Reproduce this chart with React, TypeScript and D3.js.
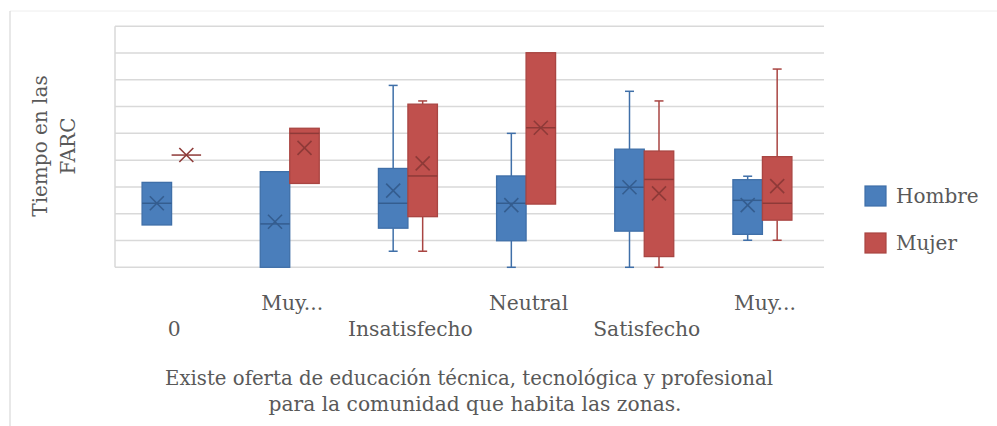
import * as React from "react";
import * as d3 from "d3";

// categories on the x axis and the labels shown under them
const categories = ["0", "Muy Insatisfecho", "Insatisfecho", "Neutral", "Satisfecho", "Muy Satisfecho"];
const tickLabels = ["0", "Muy...", "Insatisfecho", "Neutral", "Satisfecho", "Muy..."];
const gridTicks = [0, 1, 2, 3, 4, 5, 6, 7, 8, 9];

// Hombre box stats (null = no whisker beyond the box)
const hombreMin = [null, null, 0.6, 0, 0, 1.01];
const hombreQ1 = [1.58, 0, 1.46, 0.99, 1.35, 1.23];
const hombreMedian = [2.39, 1.62, 2.39, 2.39, 2.99, 2.5];
const hombreQ3 = [3.17, 3.57, 3.69, 3.41, 4.41, 3.27];
const hombreMax = [null, null, 6.79, 5.0, 6.57, 3.4];
const hombreMean = [2.39, 1.7, 2.86, 2.32, 2.99, 2.32];

// Mujer box stats
const mujerMin = [null, null, 0.6, null, 0, 1.01];
const mujerQ1 = [4.19, 3.13, 1.89, 2.36, 0.4, 1.76];
const mujerMedian = [4.19, 5.0, 3.41, 5.21, 3.28, 2.39];
const mujerQ3 = [4.19, 5.19, 6.09, 8.01, 4.34, 4.13];
const mujerMax = [null, null, 6.21, null, 6.21, 7.4];
const mujerMean = [4.19, 4.46, 3.88, 5.21, 2.76, 3.03];

const seriesNames = ["Hombre", "Mujer"];

const W = 997;
const H = 426;
const FONT = "'DejaVu Serif', serif";
const TEXT = "#595959";

const series = [
  { name: "Hombre", fill: "#4a7ebb", stroke: "#3f6fa8", dark: "#345d8f", min: hombreMin, q1: hombreQ1, med: hombreMedian, q3: hombreQ3, max: hombreMax, mean: hombreMean },
  { name: "Mujer", fill: "#c0504d", stroke: "#a94542", dark: "#8e3a38", min: mujerMin, q1: mujerQ1, med: mujerMedian, q3: mujerQ3, max: mujerMax, mean: mujerMean },
];

const App: React.FunctionComponent = () => {
  const x = d3.scaleBand<string>().domain(categories).range([115, 824]);
  const y = d3.scaleLinear().domain([0, 9]).range([267.3, 26.2]);
  const bw = 29.5;
  const mk = 7;

  return (
    <svg width={W} height={H} style={{ position: "absolute", left: 0, top: 0, background: "#fff" }}>
      {/* outer frame */}
      <line x1={10} x2={W} y1={11} y2={11} stroke="#eeeeee" strokeWidth={1} />
      <line x1={10} x2={10} y1={11} y2={H} stroke="#d9d9d9" strokeWidth={1.2} />

      {/* gridlines */}
      {gridTicks.map((t) => (
        <line key={t} x1={115} x2={824} y1={y(t)} y2={y(t)} stroke="#d9d9d9" strokeWidth={1.5} />
      ))}
      <line x1={115} x2={115} y1={y(9)} y2={y(0)} stroke="#d9d9d9" strokeWidth={1.5} />

      {/* boxes */}
      {categories.map((c, i) => {
        const mid = (x(c) ?? 0) + x.bandwidth() / 2 - 2.5;
        return series.map((s, k) => {
          const x0 = k === 0 ? mid - bw : mid;
          const cx = x0 + bw / 2;
          const top = y(s.q3[i]);
          const bot = y(s.q1[i]);
          const mx = s.max[i];
          const mn = s.min[i];
          const my = y(s.mean[i]);
          return (
            <g key={c + s.name}>
              {mx !== null && (
                <g stroke={s.stroke} strokeWidth={1.5}>
                  <line x1={cx} x2={cx} y1={y(mx)} y2={top} />
                  <line x1={cx - 4.5} x2={cx + 4.5} y1={y(mx)} y2={y(mx)} />
                </g>
              )}
              {mn !== null && (
                <g stroke={s.stroke} strokeWidth={1.5}>
                  <line x1={cx} x2={cx} y1={bot} y2={y(mn)} />
                  <line x1={cx - 4.5} x2={cx + 4.5} y1={y(mn)} y2={y(mn)} />
                </g>
              )}
              <rect x={x0} y={top} width={bw} height={Math.max(0, bot - top)} fill={s.fill} stroke={s.stroke} strokeWidth={1.3} />
              <line x1={x0} x2={x0 + bw} y1={y(s.med[i])} y2={y(s.med[i])} stroke={s.dark} strokeWidth={1.5} />
              <g stroke={s.dark} strokeWidth={1.6}>
                <line x1={cx - mk} x2={cx + mk} y1={my - mk} y2={my + mk} />
                <line x1={cx - mk} x2={cx + mk} y1={my + mk} y2={my - mk} />
              </g>
            </g>
          );
        });
      })}

      {/* x tick labels, staggered */}
      {categories.map((c, i) => (
        <text
          key={c}
          x={(x(c) ?? 0) + x.bandwidth() / 2}
          y={i % 2 === 0 ? 336 : 310}
          textAnchor="middle"
          fontFamily={FONT}
          fontSize={20.3}
          fill={TEXT}
        >
          {tickLabels[i]}
        </text>
      ))}

      {/* x axis title */}
      <text x={469} y={385} textAnchor="middle" fontFamily={FONT} fontSize={21} fill={TEXT} textLength={608} lengthAdjust="spacingAndGlyphs">
        Existe oferta de educación técnica, tecnológica y profesional
      </text>
      <text x={475} y={411} textAnchor="middle" fontFamily={FONT} fontSize={21} fill={TEXT} textLength={413} lengthAdjust="spacingAndGlyphs">
        para la comunidad que habita las zonas.
      </text>

      {/* y axis title */}
      <g transform="translate(47,146) rotate(-90)">
        <text x={0} y={0} textAnchor="middle" fontFamily={FONT} fontSize={20} fill={TEXT}>Tiempo en las</text>
        <text x={0} y={28} textAnchor="middle" fontFamily={FONT} fontSize={20} fill={TEXT}>FARC</text>
      </g>

      {/* legend */}
      {seriesNames.map((n, k) => (
        <g key={n} transform={`translate(865,${186 + k * 47})`}>
          <rect x={0} y={0} width={21} height={20} fill={series[k].fill} stroke={series[k].stroke} strokeWidth={1.2} />
          <text x={31} y={17} fontFamily={FONT} fontSize={20} fill={TEXT}>{n}</text>
        </g>
      ))}
    </svg>
  );
};

export default App;
